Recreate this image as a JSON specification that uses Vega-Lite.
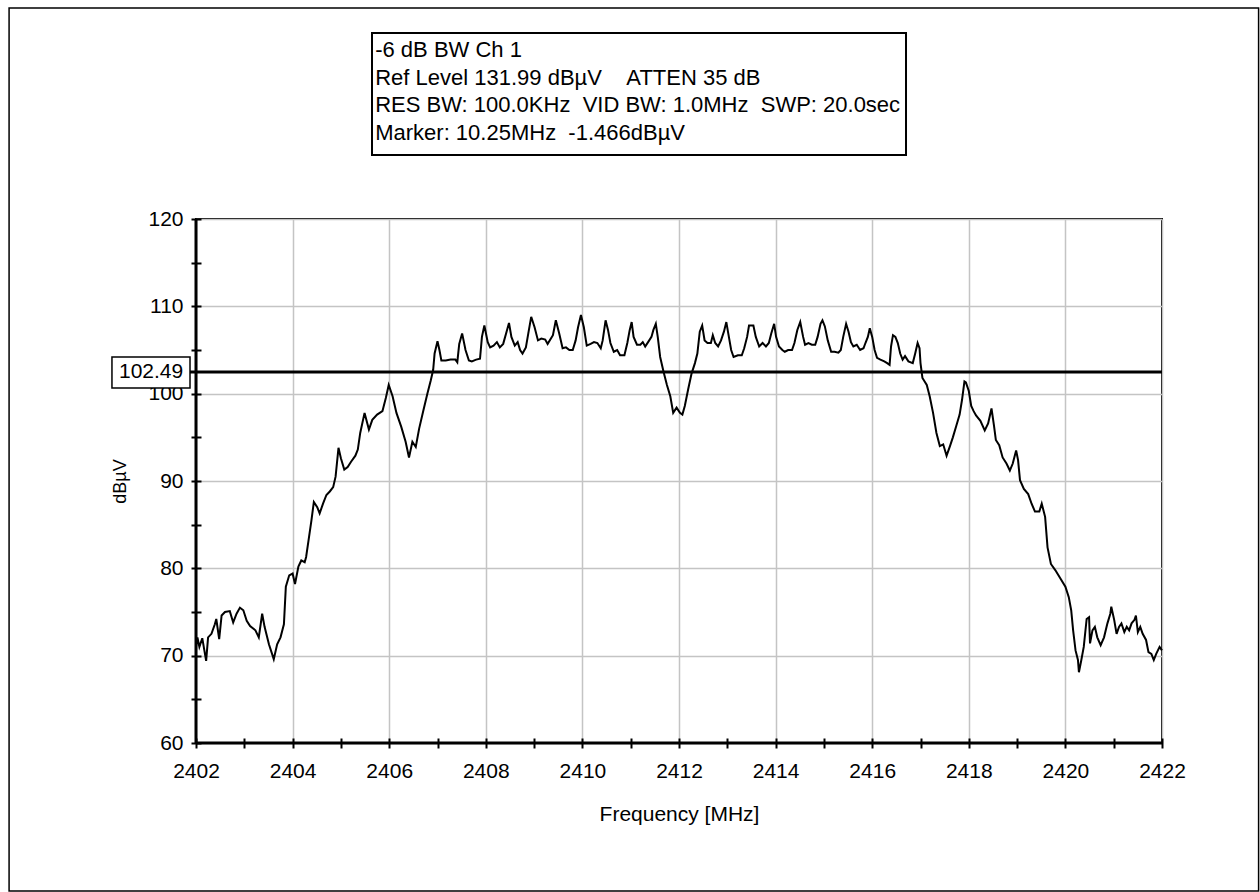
{
  "$schema": "https://vega.github.io/schema/vega-lite/v6.json",
  "width": 966,
  "height": 524,
  "autosize": {"type": "none"},
  "padding": {"left": 196, "top": 219, "right": 98, "bottom": 149},
  "background": "white",
  "config": {
    "font": "Liberation Sans",
    "view": {"stroke": "black", "strokeWidth": 2}
  },
  "datasets": {
    "trace": [
      {"f": 2402.00, "v": 71.0}, {"f": 2402.03, "v": 72.1}, {"f": 2402.07, "v": 71.0}, {"f": 2402.13, "v": 72.0},
      {"f": 2402.21, "v": 69.4}, {"f": 2402.25, "v": 72.1}, {"f": 2402.32, "v": 72.5}, {"f": 2402.39, "v": 73.6},
      {"f": 2402.42, "v": 74.2}, {"f": 2402.48, "v": 71.9}, {"f": 2402.53, "v": 74.6}, {"f": 2402.60, "v": 75.0},
      {"f": 2402.70, "v": 75.1}, {"f": 2402.77, "v": 73.8}, {"f": 2402.84, "v": 74.8}, {"f": 2402.91, "v": 75.5},
      {"f": 2402.98, "v": 75.2}, {"f": 2403.05, "v": 74.0}, {"f": 2403.12, "v": 73.4}, {"f": 2403.23, "v": 72.9},
      {"f": 2403.30, "v": 72.1}, {"f": 2403.37, "v": 74.8}, {"f": 2403.42, "v": 73.3}, {"f": 2403.51, "v": 71.3},
      {"f": 2403.61, "v": 69.6}, {"f": 2403.68, "v": 71.3}, {"f": 2403.75, "v": 72.1}, {"f": 2403.82, "v": 73.6},
      {"f": 2403.86, "v": 77.9}, {"f": 2403.93, "v": 79.2}, {"f": 2404.00, "v": 79.4}, {"f": 2404.05, "v": 78.2},
      {"f": 2404.12, "v": 80.2}, {"f": 2404.18, "v": 80.9}, {"f": 2404.25, "v": 80.7}, {"f": 2404.28, "v": 81.3},
      {"f": 2404.33, "v": 83.2}, {"f": 2404.39, "v": 85.5}, {"f": 2404.44, "v": 87.6}, {"f": 2404.51, "v": 87.0},
      {"f": 2404.56, "v": 86.3}, {"f": 2404.63, "v": 87.4}, {"f": 2404.70, "v": 88.4}, {"f": 2404.77, "v": 88.8},
      {"f": 2404.84, "v": 89.3}, {"f": 2404.89, "v": 90.5}, {"f": 2404.95, "v": 93.8}, {"f": 2405.00, "v": 92.6},
      {"f": 2405.07, "v": 91.3}, {"f": 2405.14, "v": 91.6}, {"f": 2405.21, "v": 92.2}, {"f": 2405.30, "v": 92.9},
      {"f": 2405.35, "v": 93.6}, {"f": 2405.40, "v": 95.5}, {"f": 2405.49, "v": 97.8}, {"f": 2405.58, "v": 95.9},
      {"f": 2405.65, "v": 97.0}, {"f": 2405.75, "v": 97.6}, {"f": 2405.86, "v": 98.0}, {"f": 2405.93, "v": 99.5},
      {"f": 2405.99, "v": 101.0}, {"f": 2406.07, "v": 99.7}, {"f": 2406.15, "v": 97.8}, {"f": 2406.25, "v": 96.2},
      {"f": 2406.34, "v": 94.5}, {"f": 2406.41, "v": 92.7}, {"f": 2406.48, "v": 94.5}, {"f": 2406.55, "v": 93.9},
      {"f": 2406.62, "v": 96.0}, {"f": 2406.70, "v": 97.9}, {"f": 2406.79, "v": 100.0}, {"f": 2406.86, "v": 101.5},
      {"f": 2406.91, "v": 102.7}, {"f": 2406.94, "v": 104.6}, {"f": 2407.00, "v": 106.0}, {"f": 2407.04, "v": 105.0},
      {"f": 2407.08, "v": 103.8}, {"f": 2407.17, "v": 103.8}, {"f": 2407.27, "v": 103.9}, {"f": 2407.37, "v": 103.9},
      {"f": 2407.41, "v": 103.6}, {"f": 2407.45, "v": 105.7}, {"f": 2407.51, "v": 106.9}, {"f": 2407.58, "v": 105.0},
      {"f": 2407.65, "v": 103.8}, {"f": 2407.71, "v": 103.7}, {"f": 2407.80, "v": 103.9}, {"f": 2407.88, "v": 104.0},
      {"f": 2407.92, "v": 106.5}, {"f": 2407.97, "v": 107.8}, {"f": 2408.04, "v": 105.9}, {"f": 2408.09, "v": 105.3},
      {"f": 2408.16, "v": 105.5}, {"f": 2408.23, "v": 105.9}, {"f": 2408.29, "v": 105.3}, {"f": 2408.36, "v": 105.7},
      {"f": 2408.43, "v": 107.1}, {"f": 2408.48, "v": 108.1}, {"f": 2408.53, "v": 106.5}, {"f": 2408.60, "v": 105.5},
      {"f": 2408.66, "v": 105.9}, {"f": 2408.71, "v": 105.0}, {"f": 2408.76, "v": 104.6}, {"f": 2408.83, "v": 105.3},
      {"f": 2408.88, "v": 106.9}, {"f": 2408.94, "v": 108.8}, {"f": 2409.01, "v": 107.6}, {"f": 2409.08, "v": 106.1},
      {"f": 2409.15, "v": 106.3}, {"f": 2409.23, "v": 106.2}, {"f": 2409.28, "v": 105.7}, {"f": 2409.39, "v": 106.7},
      {"f": 2409.45, "v": 108.4}, {"f": 2409.52, "v": 106.9}, {"f": 2409.59, "v": 105.2}, {"f": 2409.66, "v": 105.3},
      {"f": 2409.73, "v": 105.0}, {"f": 2409.80, "v": 105.0}, {"f": 2409.86, "v": 106.1}, {"f": 2409.91, "v": 107.6},
      {"f": 2409.97, "v": 109.0}, {"f": 2410.03, "v": 107.6}, {"f": 2410.09, "v": 105.5}, {"f": 2410.17, "v": 105.7},
      {"f": 2410.24, "v": 105.9}, {"f": 2410.31, "v": 105.8}, {"f": 2410.38, "v": 105.2}, {"f": 2410.42, "v": 106.1},
      {"f": 2410.48, "v": 108.4}, {"f": 2410.53, "v": 107.3}, {"f": 2410.58, "v": 105.8}, {"f": 2410.65, "v": 104.8},
      {"f": 2410.72, "v": 105.0}, {"f": 2410.78, "v": 104.4}, {"f": 2410.87, "v": 104.4}, {"f": 2410.93, "v": 105.8},
      {"f": 2410.98, "v": 107.3}, {"f": 2411.02, "v": 108.2}, {"f": 2411.06, "v": 106.5}, {"f": 2411.13, "v": 105.6},
      {"f": 2411.20, "v": 105.6}, {"f": 2411.25, "v": 105.9}, {"f": 2411.30, "v": 105.4}, {"f": 2411.36, "v": 105.9},
      {"f": 2411.43, "v": 106.5}, {"f": 2411.47, "v": 107.3}, {"f": 2411.52, "v": 108.0}, {"f": 2411.56, "v": 106.5},
      {"f": 2411.61, "v": 104.2}, {"f": 2411.68, "v": 102.5}, {"f": 2411.75, "v": 101.0}, {"f": 2411.82, "v": 99.7},
      {"f": 2411.88, "v": 97.8}, {"f": 2411.95, "v": 98.4}, {"f": 2412.02, "v": 97.8}, {"f": 2412.07, "v": 97.6},
      {"f": 2412.12, "v": 98.6}, {"f": 2412.19, "v": 100.5}, {"f": 2412.26, "v": 102.3}, {"f": 2412.33, "v": 103.5},
      {"f": 2412.38, "v": 104.6}, {"f": 2412.43, "v": 107.1}, {"f": 2412.48, "v": 107.8}, {"f": 2412.53, "v": 106.1},
      {"f": 2412.59, "v": 105.8}, {"f": 2412.66, "v": 105.8}, {"f": 2412.70, "v": 106.7}, {"f": 2412.75, "v": 105.8},
      {"f": 2412.81, "v": 105.4}, {"f": 2412.87, "v": 106.1}, {"f": 2412.93, "v": 107.1}, {"f": 2412.98, "v": 108.2},
      {"f": 2413.02, "v": 106.9}, {"f": 2413.08, "v": 105.0}, {"f": 2413.13, "v": 104.2}, {"f": 2413.22, "v": 104.4},
      {"f": 2413.30, "v": 104.4}, {"f": 2413.35, "v": 105.2}, {"f": 2413.41, "v": 106.5}, {"f": 2413.45, "v": 107.8},
      {"f": 2413.54, "v": 107.8}, {"f": 2413.59, "v": 106.5}, {"f": 2413.66, "v": 105.4}, {"f": 2413.73, "v": 105.8},
      {"f": 2413.80, "v": 105.4}, {"f": 2413.86, "v": 105.8}, {"f": 2413.91, "v": 106.9}, {"f": 2413.97, "v": 108.0},
      {"f": 2414.01, "v": 106.5}, {"f": 2414.07, "v": 105.4}, {"f": 2414.14, "v": 105.0}, {"f": 2414.19, "v": 104.8},
      {"f": 2414.26, "v": 105.0}, {"f": 2414.34, "v": 105.0}, {"f": 2414.39, "v": 105.8}, {"f": 2414.45, "v": 107.3},
      {"f": 2414.51, "v": 108.2}, {"f": 2414.57, "v": 106.5}, {"f": 2414.61, "v": 105.6}, {"f": 2414.68, "v": 105.8},
      {"f": 2414.75, "v": 105.6}, {"f": 2414.82, "v": 105.6}, {"f": 2414.87, "v": 106.5}, {"f": 2414.93, "v": 108.0},
      {"f": 2414.97, "v": 108.4}, {"f": 2415.02, "v": 107.7}, {"f": 2415.08, "v": 106.1}, {"f": 2415.15, "v": 104.8},
      {"f": 2415.22, "v": 104.8}, {"f": 2415.30, "v": 104.7}, {"f": 2415.35, "v": 105.0}, {"f": 2415.40, "v": 106.5},
      {"f": 2415.46, "v": 108.0}, {"f": 2415.51, "v": 107.1}, {"f": 2415.56, "v": 105.9}, {"f": 2415.61, "v": 105.4},
      {"f": 2415.68, "v": 105.6}, {"f": 2415.75, "v": 105.0}, {"f": 2415.82, "v": 105.2}, {"f": 2415.86, "v": 105.8},
      {"f": 2415.91, "v": 106.5}, {"f": 2415.95, "v": 107.5}, {"f": 2416.00, "v": 106.5}, {"f": 2416.05, "v": 105.0},
      {"f": 2416.10, "v": 104.1}, {"f": 2416.17, "v": 103.9}, {"f": 2416.25, "v": 103.7}, {"f": 2416.31, "v": 103.5},
      {"f": 2416.36, "v": 103.3}, {"f": 2416.39, "v": 105.4}, {"f": 2416.43, "v": 106.7}, {"f": 2416.48, "v": 106.5},
      {"f": 2416.53, "v": 105.8}, {"f": 2416.58, "v": 104.6}, {"f": 2416.63, "v": 103.9}, {"f": 2416.68, "v": 104.3},
      {"f": 2416.75, "v": 103.7}, {"f": 2416.84, "v": 103.5}, {"f": 2416.89, "v": 104.6}, {"f": 2416.94, "v": 105.8},
      {"f": 2416.98, "v": 105.2}, {"f": 2417.00, "v": 103.5}, {"f": 2417.04, "v": 101.8}, {"f": 2417.13, "v": 101.0},
      {"f": 2417.19, "v": 99.7}, {"f": 2417.26, "v": 97.8}, {"f": 2417.33, "v": 95.5}, {"f": 2417.40, "v": 94.0},
      {"f": 2417.47, "v": 94.2}, {"f": 2417.54, "v": 92.9}, {"f": 2417.61, "v": 94.0}, {"f": 2417.67, "v": 95.0},
      {"f": 2417.74, "v": 96.3}, {"f": 2417.81, "v": 97.6}, {"f": 2417.86, "v": 99.3}, {"f": 2417.91, "v": 101.4},
      {"f": 2417.94, "v": 101.3}, {"f": 2418.00, "v": 100.3}, {"f": 2418.05, "v": 98.6}, {"f": 2418.10, "v": 98.0},
      {"f": 2418.15, "v": 97.5}, {"f": 2418.24, "v": 96.9}, {"f": 2418.33, "v": 95.8}, {"f": 2418.40, "v": 96.6},
      {"f": 2418.47, "v": 98.3}, {"f": 2418.52, "v": 96.4}, {"f": 2418.56, "v": 94.7}, {"f": 2418.63, "v": 94.1},
      {"f": 2418.70, "v": 92.7}, {"f": 2418.78, "v": 92.0}, {"f": 2418.85, "v": 91.2}, {"f": 2418.91, "v": 92.0},
      {"f": 2418.98, "v": 93.5}, {"f": 2419.02, "v": 92.4}, {"f": 2419.06, "v": 90.1}, {"f": 2419.14, "v": 89.1},
      {"f": 2419.23, "v": 88.5}, {"f": 2419.30, "v": 87.4}, {"f": 2419.37, "v": 86.5}, {"f": 2419.46, "v": 86.5},
      {"f": 2419.51, "v": 87.4}, {"f": 2419.58, "v": 85.9}, {"f": 2419.63, "v": 82.4}, {"f": 2419.70, "v": 80.5},
      {"f": 2419.79, "v": 79.8}, {"f": 2419.90, "v": 78.8}, {"f": 2420.00, "v": 77.9}, {"f": 2420.07, "v": 76.7},
      {"f": 2420.12, "v": 75.2}, {"f": 2420.16, "v": 72.9}, {"f": 2420.21, "v": 70.6}, {"f": 2420.26, "v": 69.5},
      {"f": 2420.28, "v": 68.1}, {"f": 2420.33, "v": 69.5}, {"f": 2420.38, "v": 71.0}, {"f": 2420.44, "v": 74.2},
      {"f": 2420.49, "v": 74.4}, {"f": 2420.51, "v": 71.4}, {"f": 2420.56, "v": 72.9}, {"f": 2420.61, "v": 73.3},
      {"f": 2420.66, "v": 72.1}, {"f": 2420.73, "v": 71.2}, {"f": 2420.80, "v": 72.1}, {"f": 2420.87, "v": 73.7},
      {"f": 2420.93, "v": 74.8}, {"f": 2420.95, "v": 75.6}, {"f": 2421.01, "v": 74.1}, {"f": 2421.06, "v": 72.5},
      {"f": 2421.11, "v": 73.3}, {"f": 2421.16, "v": 73.7}, {"f": 2421.22, "v": 72.7}, {"f": 2421.27, "v": 73.3},
      {"f": 2421.32, "v": 72.9}, {"f": 2421.37, "v": 73.7}, {"f": 2421.43, "v": 74.1}, {"f": 2421.46, "v": 74.6},
      {"f": 2421.50, "v": 72.7}, {"f": 2421.55, "v": 73.3}, {"f": 2421.60, "v": 72.5}, {"f": 2421.67, "v": 71.8},
      {"f": 2421.72, "v": 70.4}, {"f": 2421.78, "v": 70.2}, {"f": 2421.83, "v": 69.5}, {"f": 2421.88, "v": 70.2},
      {"f": 2421.95, "v": 71.0}, {"f": 2422.00, "v": 70.6}
    ]
  },
  "layer": [
    {
      "description": "Outer frame around the whole figure",
      "data": {"values": [{}]},
      "mark": {"type": "rect", "fill": null, "stroke": "black", "strokeWidth": 1.5},
      "encoding": {
        "x": {"datum": 2398.13, "type": "quantitative"},
        "x2": {"datum": 2424.0},
        "y": {"datum": 144.16, "type": "quantitative"},
        "y2": {"datum": 43.05}
      }
    },
    {
      "description": "Measured spectrum trace",
      "data": {"name": "trace"},
      "mark": {"type": "line", "color": "black", "strokeWidth": 2, "interpolate": "linear"},
      "encoding": {
        "x": {
          "field": "f",
          "type": "quantitative",
          "scale": {"domain": [2402, 2422], "nice": false, "zero": false},
          "axis": {
            "values": [2402, 2403, 2404, 2405, 2406, 2407, 2408, 2409, 2410, 2411, 2412, 2413, 2414, 2415, 2416, 2417, 2418, 2419, 2420, 2421, 2422],
            "format": "d",
            "labelExpr": "datum.value % 2 === 0 ? datum.label : ''",
            "domain": false,
            "offset": -5,
            "tickSize": 10,
            "tickWidth": 2,
            "tickColor": "black",
            "grid": true,
            "gridColor": "#c4c4c4",
            "gridWidth": 1.5,
            "gridOpacity": {"condition": {"test": "datum.value % 2 !== 0", "value": 0}, "value": 1},
            "labelFont": "Liberation Sans",
            "labelFontSize": 21,
            "labelColor": "black",
            "labelPadding": 12,
            "labelFlush": false,
            "labelOverlap": false,
            "title": "Frequency [MHz]",
            "titleFont": "Liberation Sans",
            "titleFontSize": 21,
            "titleFontWeight": "normal",
            "titleColor": "black",
            "titlePadding": 22
          }
        },
        "y": {
          "field": "v",
          "type": "quantitative",
          "scale": {"domain": [60, 120], "nice": false, "zero": false},
          "axis": {
            "values": [60, 65, 70, 75, 80, 85, 90, 95, 100, 105, 110, 115, 120],
            "labelExpr": "datum.value % 10 === 0 ? datum.label : ''",
            "domain": false,
            "offset": -5,
            "tickSize": 10,
            "tickWidth": 2,
            "tickColor": "black",
            "grid": true,
            "gridColor": "#c4c4c4",
            "gridWidth": 1.5,
            "gridOpacity": {"condition": {"test": "datum.value % 10 !== 0", "value": 0}, "value": 1},
            "labelFont": "Liberation Sans",
            "labelFontSize": 21,
            "labelColor": "black",
            "labelPadding": 8,
            "labelFlush": false,
            "labelOverlap": false,
            "title": "dBµV",
            "titleFont": "Liberation Sans",
            "titleFontSize": 18,
            "titleFontWeight": "normal",
            "titleColor": "black",
            "titlePadding": 18
          }
        }
      }
    },
    {
      "description": "Heavier left axis line",
      "data": {"values": [{}]},
      "mark": {"type": "rule", "color": "black", "strokeWidth": 3},
      "encoding": {
        "x": {"datum": 2402, "type": "quantitative"},
        "y": {"datum": 60, "type": "quantitative"},
        "y2": {"datum": 120}
      }
    },
    {
      "description": "Heavier bottom axis line",
      "data": {"values": [{}]},
      "mark": {"type": "rule", "color": "black", "strokeWidth": 3},
      "encoding": {
        "x": {"datum": 2402, "type": "quantitative"},
        "x2": {"datum": 2422},
        "y": {"datum": 60, "type": "quantitative"}
      }
    },
    {
      "description": "Reference level line",
      "data": {"values": [{}]},
      "mark": {"type": "rule", "color": "black", "strokeWidth": 3},
      "encoding": {
        "x": {"datum": 2401.876, "type": "quantitative"},
        "x2": {"datum": 2422},
        "y": {"datum": 102.49, "type": "quantitative"}
      }
    },
    {
      "description": "Boxed reference level readout",
      "data": {"values": [{}]},
      "mark": {"type": "rect", "fill": "white", "stroke": "black", "strokeWidth": 1.5},
      "encoding": {
        "x": {"datum": 2400.26, "type": "quantitative"},
        "x2": {"datum": 2401.876},
        "y": {"datum": 104.2, "type": "quantitative"},
        "y2": {"datum": 100.65}
      }
    },
    {
      "data": {"values": [{}]},
      "mark": {"type": "text", "font": "Liberation Sans", "fontSize": 21, "color": "black", "align": "center", "baseline": "middle"},
      "encoding": {
        "x": {"datum": 2401.07, "type": "quantitative"},
        "y": {"datum": 102.49, "type": "quantitative"},
        "text": {"value": "102.49"}
      }
    },
    {
      "description": "Analyzer settings box",
      "data": {"values": [{}]},
      "mark": {"type": "rect", "fill": "white", "stroke": "black", "strokeWidth": 2},
      "encoding": {
        "x": {"datum": 2405.644, "type": "quantitative"},
        "x2": {"datum": 2416.70},
        "y": {"datum": 141.30, "type": "quantitative"},
        "y2": {"datum": 127.33}
      }
    },
    {
      "data": {"values": [{}]},
      "mark": {"type": "text", "font": "Liberation Sans", "fontSize": 22, "color": "black", "align": "left", "baseline": "middle", "lineHeight": 27.5},
      "encoding": {
        "x": {"datum": 2405.71, "type": "quantitative"},
        "y": {"datum": 139.35, "type": "quantitative"},
        "text": {"value": [
          "-6 dB BW Ch 1",
          "Ref Level 131.99 dBµV\u00a0\u00a0\u00a0\u00a0ATTEN 35 dB",
          "RES BW: 100.0KHz\u00a0\u00a0VID BW: 1.0MHz\u00a0\u00a0SWP: 20.0sec",
          "Marker: 10.25MHz\u00a0\u00a0-1.466dBµV"
        ]}
      }
    }
  ]
}
